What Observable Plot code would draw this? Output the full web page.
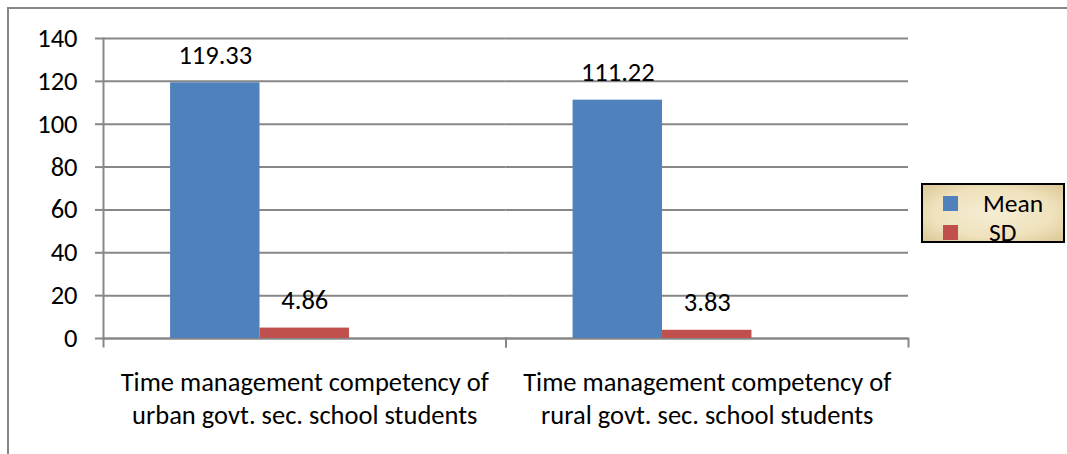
<!DOCTYPE html>
<html>
<head>
<meta charset="utf-8">
<script src="https://cdn.jsdelivr.net/npm/d3@7"></script>
<script src="https://cdn.jsdelivr.net/npm/@observablehq/plot@0.6"></script>
<style>
  html, body { margin: 0; padding: 0; background: #ffffff; }
  #wrap { position: relative; width: 1067px; height: 454px; overflow: hidden; font-family: Carlito, Lato, sans-serif; }
  #border { position: absolute; left: 7px; top: 7px; width: 1080px; height: 470px; border-top: 2px solid #878787; border-left: 2px solid #878787; }
  #chart { position: absolute; left: 0; top: 0; }
  #legend { position: absolute; left: 921px; top: 183px; width: 144px; height: 60px; box-sizing: border-box;
    border: 2px solid #000;
    background: radial-gradient(ellipse at center, #f5ecd3 0%, #efe2bd 60%, #dcc795 100%);
    font-size: 25.5px; color: #000; }
  .row { position: absolute; left: 0; height: 29px; width: 100%; }
  .sw { position: absolute; left: 20px; top: 7px; width: 15px; height: 15px; }
  .lab { position: absolute; left: 60px; top: 0; line-height: 29px; }
</style>
</head>
<body>
<div id="wrap">
  <div id="border"></div>
  <div id="chart"></div>
  <div id="legend"></div>
</div>
<script>
const categories = [
  "Time management competency of\nurban govt. sec. school students",
  "Time management competency of\nrural govt. sec. school students"
];
const seriesNames = ["Mean", "SD"];
const meanValues = [119.33, 111.22];
const sdValues = [4.86, 3.83];
const seriesColors = ["#4F81BD", "#C0504D"];
const yTicks = [0, 20, 40, 60, 80, 100, 120, 140];

const data = categories.flatMap((c, i) => [
  {category: c, series: seriesNames[0], value: meanValues[i]},
  {category: c, series: seriesNames[1], value: sdValues[i]}
]);

const W = 1067, H = 454, mT = 38, mB = 116, mL = 103, mR = 159;
const frameH = H - mT - mB;
const gray = "#878787";
const FS = 26.5;

const plot = Plot.plot({
  width: W, height: H,
  marginTop: mT, marginBottom: mB, marginLeft: mL, marginRight: mR,
  style: {fontFamily: "Carlito, Lato, sans-serif", background: "transparent", overflow: "visible", color: "#000"},
  fx: {domain: categories, padding: 0, round: false},
  x: {domain: [...seriesNames, "\u200b"], paddingInner: 0, paddingOuter: 0.75, round: false, axis: null},
  y: {domain: [0, 140]},
  color: {domain: seriesNames, range: seriesColors},
  marks: [
    Plot.gridY(yTicks, {stroke: gray, strokeOpacity: 1, strokeWidth: 2}),
    Plot.ruleY([0], {stroke: gray, strokeWidth: 2}),
    Plot.barY(data, {fx: "category", x: "series", y: "value", fill: "series"}),
    Plot.frame({anchor: "left", facet: "super", stroke: gray, strokeWidth: 2}),
    Plot.frame({anchor: "left", stroke: gray, strokeWidth: 2, insetTop: frameH, insetBottom: -8}),
    Plot.frame({anchor: "right", stroke: gray, strokeWidth: 2, insetTop: frameH, insetBottom: -8}),
    Plot.axisY({ticks: yTicks, tickSize: 8, tickPadding: 18, fontSize: FS, stroke: gray, strokeWidth: 2, fill: "#000", label: null}),
    Plot.axisFx({anchor: "bottom", tickSize: 0, tickPadding: 29, fontSize: FS, lineHeight: 1.245, fill: "#000", label: null}),
    Plot.text(data, {fx: "category", x: "series", y: "value", text: d => d.value.toFixed(2), dy: -27.5, fontSize: FS, fill: "#000"})
  ]
});
document.getElementById("chart").appendChild(plot);

const legend = document.getElementById("legend");
seriesNames.forEach((s, i) => {
  const row = document.createElement("div");
  row.className = "row";
  row.style.top = (4 + i * 29) + "px";
  const sw = document.createElement("div");
  sw.className = "sw";
  sw.style.background = seriesColors[i];
  const lab = document.createElement("div");
  lab.className = "lab";
  lab.style.left = (i === 0 ? 60 : 66) + "px";
  lab.textContent = s;
  row.appendChild(sw);
  row.appendChild(lab);
  legend.appendChild(row);
});
</script>
</body>
</html>
